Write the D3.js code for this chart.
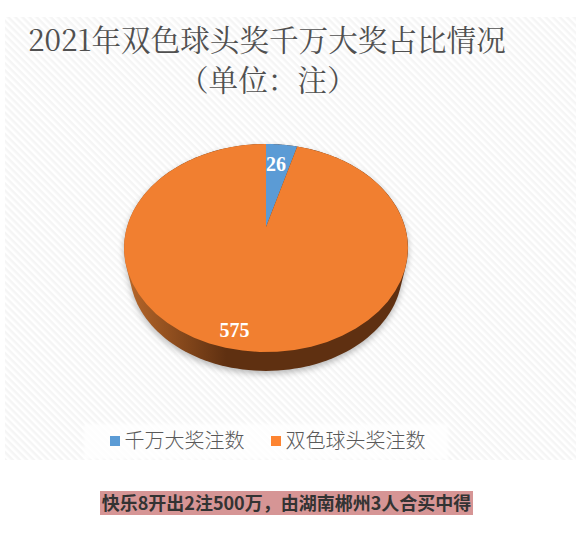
<!DOCTYPE html>
<html>
<head>
<meta charset="utf-8">
<script src="https://cdn.jsdelivr.net/npm/d3@7"></script>
<style>
html, body { margin: 0; padding: 0; background: #fff; }
svg { display: block; }
</style>
</head>
<body>
<div class="chart"></div>
<script>
const titleLines = ["2021年双色球头奖千万大奖占比情况", "（单位：注）"]
const categories = ["千万大奖注数", "双色球头奖注数"]
const values = [26, 575]
const colors = ["#5b9bd5", "#f17f30"]
const legendColors = ["#5b9bd5", "#fd8431"]
const caption = "快乐8开出2注500万，由湖南郴州3人合买中得"

const width = 576
const height = 533
const serif = "'Noto Serif CJK SC','Source Han Serif SC','Liberation Serif','DejaVu Serif','Noto Sans CJK SC',serif"
const sans = "'Noto Sans CJK SC','Noto Sans',sans-serif"

const svg = d3.select(".chart").append("svg")
    .attr("width", width)
    .attr("height", height)

const defs = svg.append("defs")

// diagonal hatch behind the chart
const hatch = defs.append("pattern")
    .attr("id", "hatch")
    .attr("width", 5)
    .attr("height", 5)
    .attr("patternUnits", "userSpaceOnUse")
    .attr("patternTransform", "rotate(45)")
hatch.append("rect").attr("width", 5).attr("height", 5).attr("fill", "#ffffff")
hatch.append("rect").attr("width", 5).attr("height", 2.5).attr("fill", "#f5f5f5")

const wallGradient = defs.append("linearGradient")
    .attr("id", "wall")
    .attr("gradientUnits", "userSpaceOnUse")
    .attr("x1", 124).attr("x2", 408).attr("y1", 0).attr("y2", 0)
wallGradient.append("stop").attr("offset", "0%").attr("stop-color", "#b9682a")
wallGradient.append("stop").attr("offset", "36%").attr("stop-color", "#5f3011")
wallGradient.append("stop").attr("offset", "100%").attr("stop-color", "#5f3011")

defs.append("filter").attr("id", "blur")
    .attr("x", "-10%").attr("y", "-10%").attr("width", "120%").attr("height", "120%")
    .append("feGaussianBlur").attr("stdDeviation", 3)

defs.append("filter").attr("id", "soft")
    .append("feGaussianBlur").attr("stdDeviation", 1)

svg.append("rect")
    .attr("x", 5)
    .attr("y", 17)
    .attr("width", width - 5)
    .attr("height", 443)
    .attr("fill", "url(#hatch)")

svg.selectAll(".title")
    .data(titleLines)
    .enter()
    .append("text")
    .attr("class", "title")
    .attr("x", (d, i) => i === 0 ? 28 : 179)
    .attr("y", (d, i) => i === 0 ? 51 : 91)
    .attr("font-family", serif)
    .attr("font-size", 29.6)
    .attr("fill", "#505050")
    .text(d => d)

// tilted disc: perspective projection of the unit circle, angles come from d3.pie
const centerX = 266
const apexY = 227
const wallShrink = 0.96
const wallDrop = 23
const tilt = 0.202
const radiusX = d3.scaleLinear().domain([-1, 1]).range([centerX - 139, centerX + 139])
const radiusY = d3.scaleLinear().domain([-1, 1]).range([apexY + 99.8, apexY - 99.8])

function project(angle, r) {
    const u = Math.sin(angle) * r
    const v = Math.cos(angle) * r
    const s = 1 / (1 + tilt * v)
    return [radiusX(u * s), radiusY(v * s)]
}

const pie = d3.pie().sort(null)
const slices = pie(values)

const outline = d3.range(0, 360, 2).map(d => project(d * Math.PI / 180, 1))
// the underside sits lower and looks a little smaller, so the wall tapers off at the sides
const underside = outline.map(p => [
    centerX + (p[0] - centerX) * wallShrink,
    apexY + 21 + (p[1] - apexY - 21) * wallShrink + wallDrop
])
const hull = d3.polygonHull(outline.concat(underside))
const line = d3.line()

svg.append("path")
    .attr("d", line(hull) + "Z")
    .attr("transform", "translate(0,3)")
    .attr("fill", "#7f7f7f")
    .attr("opacity", 0.55)
    .attr("filter", "url(#blur)")

svg.append("path")
    .attr("d", line(hull) + "Z")
    .attr("fill", "url(#wall)")

function slicePath(d) {
    const steps = d3.range(0, 61).map(i => project(d.startAngle + (d.endAngle - d.startAngle) * i / 60, 1))
    return line([project(0, 0)].concat(steps)) + "Z"
}

svg.selectAll(".slice")
    .data(slices)
    .enter()
    .append("path")
    .attr("class", "slice")
    .attr("d", slicePath)
    .attr("fill", (d, i) => colors[i])

// label placement inside each slice
const labelRadius = [0.72, 0.88]
const labelTurn = [-0.02, 0.078]

svg.selectAll(".label")
    .data(slices)
    .enter()
    .append("text")
    .attr("class", "label")
    .attr("x", (d, i) => project((d.startAngle + d.endAngle) / 2 + labelTurn[i], labelRadius[i])[0])
    .attr("y", (d, i) => project((d.startAngle + d.endAngle) / 2 + labelTurn[i], labelRadius[i])[1] + 6.5)
    .attr("text-anchor", "middle")
    .attr("font-family", "'Liberation Serif','DejaVu Serif',serif")
    .attr("font-weight", "bold")
    .attr("font-size", 20)
    .attr("fill", "#ffffff")
    .text(d => d.data)

// legend on a white plate
svg.append("rect")
    .attr("x", 84)
    .attr("y", 424)
    .attr("width", 364)
    .attr("height", 35)
    .attr("fill", "#ffffff")
    .attr("opacity", 0.85)
    .attr("filter", "url(#soft)")

const legendX = [110, 271]
const legend = svg.selectAll(".legend")
    .data(categories)
    .enter()
    .append("g")
    .attr("class", "legend")
    .attr("transform", (d, i) => "translate(" + legendX[i] + ",436)")

legend.append("rect")
    .attr("width", 10)
    .attr("height", 10)
    .attr("fill", (d, i) => legendColors[i])

legend.append("text")
    .attr("x", 14.5)
    .attr("y", 12)
    .attr("font-family", sans)
    .attr("font-weight", 300)
    .attr("font-size", 20)
    .attr("fill", "#595959")
    .text(d => d)

svg.append("rect")
    .attr("x", 100)
    .attr("y", 491)
    .attr("width", 373)
    .attr("height", 24)
    .attr("fill", "#d69595")

svg.append("text")
    .attr("x", 286.5)
    .attr("y", 509.5)
    .attr("text-anchor", "middle")
    .attr("font-family", sans)
    .attr("font-weight", "bold")
    .attr("font-size", 18)
    .attr("fill", "#333333")
    .text(caption)
</script>
</body>
</html>
